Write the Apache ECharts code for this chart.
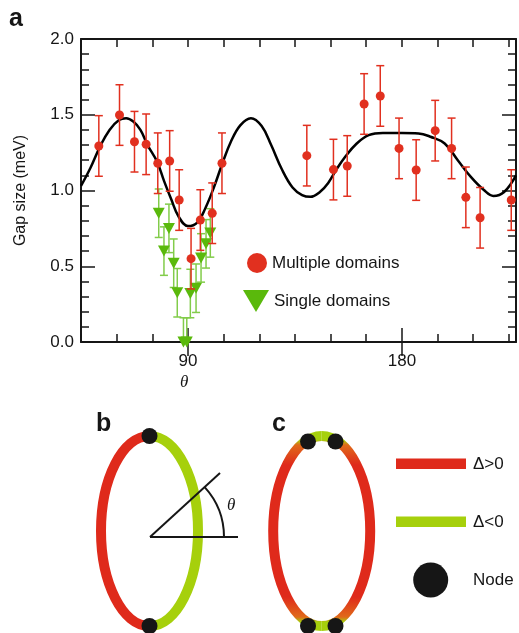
<!DOCTYPE html>
<html>
<head>
<meta charset="utf-8">
<script src="https://cdn.jsdelivr.net/npm/echarts@6/dist/echarts.min.js"></script>
<style>
  html, body { margin: 0; padding: 0; background: #fff; }
  #chart { width: 519px; height: 633px; }
</style>
</head>
<body>
<div id="chart"></div>
<script>
// fitted curve
var curveTheta = [45, 49, 53, 57, 61, 64, 67, 70, 73, 77, 80, 83, 86, 90, 94, 97.5, 101, 104.5, 108, 112,
  116.5, 121, 125, 129.5, 134, 138, 141.5, 145.5, 149, 152.5, 156, 161, 166, 172, 180, 187, 192, 198,
  203.5, 209, 214.5, 218.5, 223, 228];
var curveGap = [1.03, 1.15, 1.29, 1.40, 1.465, 1.477, 1.455, 1.40, 1.30, 1.19, 1.06, 0.94, 0.83, 0.765, 0.79, 0.89,
  1.025, 1.18, 1.32, 1.43, 1.477, 1.425, 1.30, 1.14, 1.02, 0.97, 0.958, 0.99, 1.05, 1.14, 1.22, 1.31,
  1.365, 1.38, 1.38, 1.377, 1.355, 1.31, 1.20, 1.09, 1.003, 0.964, 0.99, 1.10];

// multiple domains (red)
var multiTheta = [52.5, 61.2, 67.5, 72.4, 77.3, 82.3, 86.3, 91.3, 95.2, 100.2, 104.3, 140, 151.2, 157,
  164.1, 170.9, 178.8, 186, 194, 200.9, 206.9, 212.9, 226];
var multiGap = [1.294, 1.498, 1.322, 1.305, 1.18, 1.195, 0.937, 0.55, 0.805, 0.85, 1.18, 1.23, 1.138, 1.162,
  1.571, 1.624, 1.278, 1.135, 1.395, 1.278, 0.955, 0.82, 0.937];
var multiErr = [0.2, 0.2, 0.2, 0.2, 0.2, 0.2, 0.2, 0.2, 0.2, 0.2, 0.2, 0.2, 0.2, 0.2,
  0.2, 0.2, 0.2, 0.2, 0.2, 0.2, 0.2, 0.2, 0.2];

// single domains (green)
var singleTheta = [77.7, 79.9, 82.0, 84.0, 85.5, 88.1, 89.5, 91.0, 93.4, 95.5, 97.6, 99.4];
var singleGap = [0.85, 0.60, 0.75, 0.52, 0.325, 0.0, 0.0, 0.32, 0.355, 0.555, 0.648, 0.72];
var singleErr = [0.16, 0.16, 0.16, 0.16, 0.16, 0.16, 0.16, 0.16, 0.16, 0.16, 0.16, 0.16];

var xLabels = [90, 180];

var FONT = '"Liberation Sans", Arial, sans-serif';
var RED = '#e1301f';
var GREEN = '#5ab90c';
var LIGHT_GREEN = '#82cc4a';
var RING_RED = '#df2a1b';
var RING_GREEN = '#a6d00c';
var INK = '#161616';

function pairs(xs, ys) {
  return xs.map(function (x, i) { return [x, ys[i]]; });
}

function triples(xs, ys, es) {
  return xs.map(function (x, i) { return [x, ys[i], es[i]]; });
}

/**
 * Vertical error bars with caps, drawn through the axis scale.
 */
function errorBars(data, color, z) {
  return {
    type: 'custom',
    data: data,
    encode: { x: 0, y: 1 },
    clip: true,
    z: z,
    silent: true,
    renderItem: function (params, api) {
      var x = api.value(0), y = api.value(1), e = api.value(2);
      var hi = api.coord([x, y + e]);
      var lo = api.coord([x, y - e]);
      var cap = 4;
      var style = { stroke: color, lineWidth: 1.5 };
      return {
        type: 'group',
        children: [
          { type: 'line', shape: { x1: hi[0], y1: hi[1], x2: lo[0], y2: lo[1] }, style: style },
          { type: 'line', shape: { x1: hi[0] - cap, y1: hi[1], x2: hi[0] + cap, y2: hi[1] }, style: style },
          { type: 'line', shape: { x1: lo[0] - cap, y1: lo[1], x2: lo[0] + cap, y2: lo[1] }, style: style }
        ]
      };
    }
  };
}

function xAxisDef(pos, major, labels) {
  var ax = {
    type: 'value', position: pos, min: 45, max: 228,
    axisLine: { show: true, onZero: false, lineStyle: { color: INK, width: 2 } },
    splitLine: { show: false },
    axisLabel: { show: false },
    axisTick: { show: true, inside: true, length: 8, lineStyle: { color: INK, width: 1.5 } }
  };
  if (major) {
    ax.axisLine = { show: false };
    ax.axisTick = { show: true, inside: true, length: 14, customValues: xLabels, lineStyle: { color: INK, width: 1.5 } };
  } else {
    ax.interval = 15;
  }
  if (labels) {
    ax.axisLabel = {
      show: true, fontSize: 17, fontFamily: FONT, color: INK, margin: 11,
      formatter: function (v) { return xLabels.indexOf(v) >= 0 ? String(v) : ''; }
    };
  }
  return ax;
}

function yAxisDef(pos, labels) {
  var ax = {
    type: 'value', position: pos, min: 0, max: 2, interval: 0.5,
    axisLine: { show: true, onZero: false, lineStyle: { color: INK, width: 2 } },
    splitLine: { show: false },
    axisTick: { show: true, inside: true, length: 14, lineStyle: { color: INK, width: 1.5 } },
    minorTick: { show: true, splitNumber: 5, length: 8, lineStyle: { color: INK, width: 1.5 } },
    axisLabel: { show: false }
  };
  if (labels) {
    ax.axisLabel = {
      show: true, fontSize: 17, fontFamily: FONT, color: INK, margin: 7,
      formatter: function (v) { return v.toFixed(1); }
    };
    ax.name = 'Gap size (meV)';
    ax.nameLocation = 'middle';
    ax.nameGap = 52;
    ax.nameTextStyle = { fontSize: 16, fontFamily: FONT, color: INK };
  }
  return ax;
}

function label(text, x, y, size) {
  return {
    type: 'text', z: 10,
    style: { text: text, x: x, y: y, fill: INK, font: 'bold ' + size + 'px ' + FONT, textVerticalAlign: 'middle' }
  };
}

function plainText(text, x, y, font) {
  return { type: 'text', z: 10, style: { text: text, x: x, y: y, fill: INK, font: font, textVerticalAlign: 'middle' } };
}

// panel b and c geometry (pixels)
var bx = 149.5, cx = 321.7, ringY = 531, rx = 48.5, ry = 95;
var K = 0.5523;

/**
 * Quarter of the ring as a cubic bezier. sx: -1 left / 1 right, sy: -1 top / 1 bottom.
 */
function quarter(x0, sx, sy, stroke) {
  return {
    type: 'bezierCurve',
    shape: {
      x1: x0, y1: ringY + sy * ry,
      cpx1: x0 + sx * K * rx, cpy1: ringY + sy * ry,
      cpx2: x0 + sx * rx, cpy2: ringY + sy * K * ry,
      x2: x0 + sx * rx, y2: ringY
    },
    style: { fill: null, stroke: stroke, lineWidth: 10, lineCap: 'butt' }
  };
}

function node(x, y, r) {
  return { type: 'circle', z: 5, shape: { cx: x, cy: y, r: r }, style: { fill: INK } };
}

var ringGradient = new echarts.graphic.LinearGradient(0, ringY - ry - 5, 0, ringY + ry + 5, [
  { offset: 0, color: RING_GREEN }, { offset: 0.045, color: RING_GREEN },
  { offset: 0.07, color: '#e06a1a' }, { offset: 0.17, color: RING_RED },
  { offset: 0.83, color: RING_RED }, { offset: 0.93, color: '#e06a1a' },
  { offset: 0.955, color: RING_GREEN }, { offset: 1, color: RING_GREEN }
], true);

var graphics = [
  label('a', 9, 19, 25),
  label('b', 96, 424, 25),
  label('c', 272, 424, 25),
  plainText('θ', 180, 383, 'italic 17px "Liberation Serif", serif'),

  // panel b
  quarter(bx, -1, -1, RING_RED),
  quarter(bx, -1, 1, RING_RED),
  quarter(bx, 1, -1, RING_GREEN),
  quarter(bx, 1, 1, RING_GREEN),
  node(bx, ringY - ry, 8),
  node(bx, ringY + ry, 8),
  { type: 'line', z: 6, shape: { x1: 150, y1: 537, x2: 238, y2: 537 }, style: { stroke: INK, lineWidth: 2 } },
  { type: 'line', z: 6, shape: { x1: 150, y1: 537, x2: 220, y2: 473 }, style: { stroke: INK, lineWidth: 2 } },
  { type: 'arc', z: 6, shape: { cx: 150, cy: 537, r: 74, startAngle: -0.74, endAngle: 0, clockwise: true }, style: { fill: null, stroke: INK, lineWidth: 2 } },
  plainText('θ', 227, 506, 'italic 17px "Liberation Serif", serif'),

  // panel c
  quarter(cx, -1, -1, ringGradient),
  quarter(cx, -1, 1, ringGradient),
  quarter(cx, 1, -1, ringGradient),
  quarter(cx, 1, 1, ringGradient),
  node(308, 441.5, 8), node(335.5, 441.5, 8),
  node(308, 626, 8), node(335.5, 626, 8),

  // ring legend
  { type: 'rect', shape: { x: 396, y: 458.5, width: 70, height: 10.5 }, style: { fill: RING_RED } },
  { type: 'rect', shape: { x: 396, y: 516.5, width: 70, height: 10.5 }, style: { fill: RING_GREEN } },
  node(430.7, 580, 17.5),
  plainText('Δ>0', 473, 464, '17px ' + FONT),
  plainText('Δ<0', 473, 522, '17px ' + FONT),
  plainText('Node', 473, 580, '17px ' + FONT)
];

var chart = echarts.init(document.getElementById('chart'));

var option = {
  animation: false,
  backgroundColor: '#fff',
  grid: { left: 81, right: 0, top: 39, bottom: 291, containLabel: false },
  xAxis: [
    xAxisDef('bottom', false, true),
    xAxisDef('bottom', true, false),
    xAxisDef('top', false, false),
    xAxisDef('top', true, false)
  ],
  yAxis: [
    yAxisDef('left', true),
    yAxisDef('right', false)
  ],
  legend: [
    {
      data: [{ name: 'Multiple domains', icon: 'circle' }],
      left: 247, top: 253, itemWidth: 20, itemHeight: 20, padding: 0,
      textStyle: { fontSize: 17, fontFamily: FONT, color: INK }
    },
    {
      data: [{ name: 'Single domains', icon: 'path://M0,0L26,0L13,22Z' }],
      left: 243, top: 290, itemWidth: 26, itemHeight: 22, padding: 0,
      textStyle: { fontSize: 17, fontFamily: FONT, color: INK }
    }
  ],
  series: [
    errorBars(triples(singleTheta, singleGap, singleErr), LIGHT_GREEN, 1),
    {
      name: 'Single domains', type: 'scatter', z: 2,
      symbol: 'triangle', symbolRotate: 180, symbolSize: [12, 11],
      itemStyle: { color: GREEN, opacity: 1 },
      data: pairs(singleTheta, singleGap)
    },
    {
      type: 'line', z: 3, smooth: 0.4, showSymbol: false, clip: true, silent: true,
      lineStyle: { color: '#000', width: 2.5 },
      data: pairs(curveTheta, curveGap)
    },
    errorBars(triples(multiTheta, multiGap, multiErr), RED, 4),
    {
      name: 'Multiple domains', type: 'scatter', z: 5,
      symbol: 'circle', symbolSize: 9,
      itemStyle: { color: RED, opacity: 1 },
      data: pairs(multiTheta, multiGap)
    }
  ],
  graphic: graphics
};

chart.setOption(option);
</script>
</body>
</html>
